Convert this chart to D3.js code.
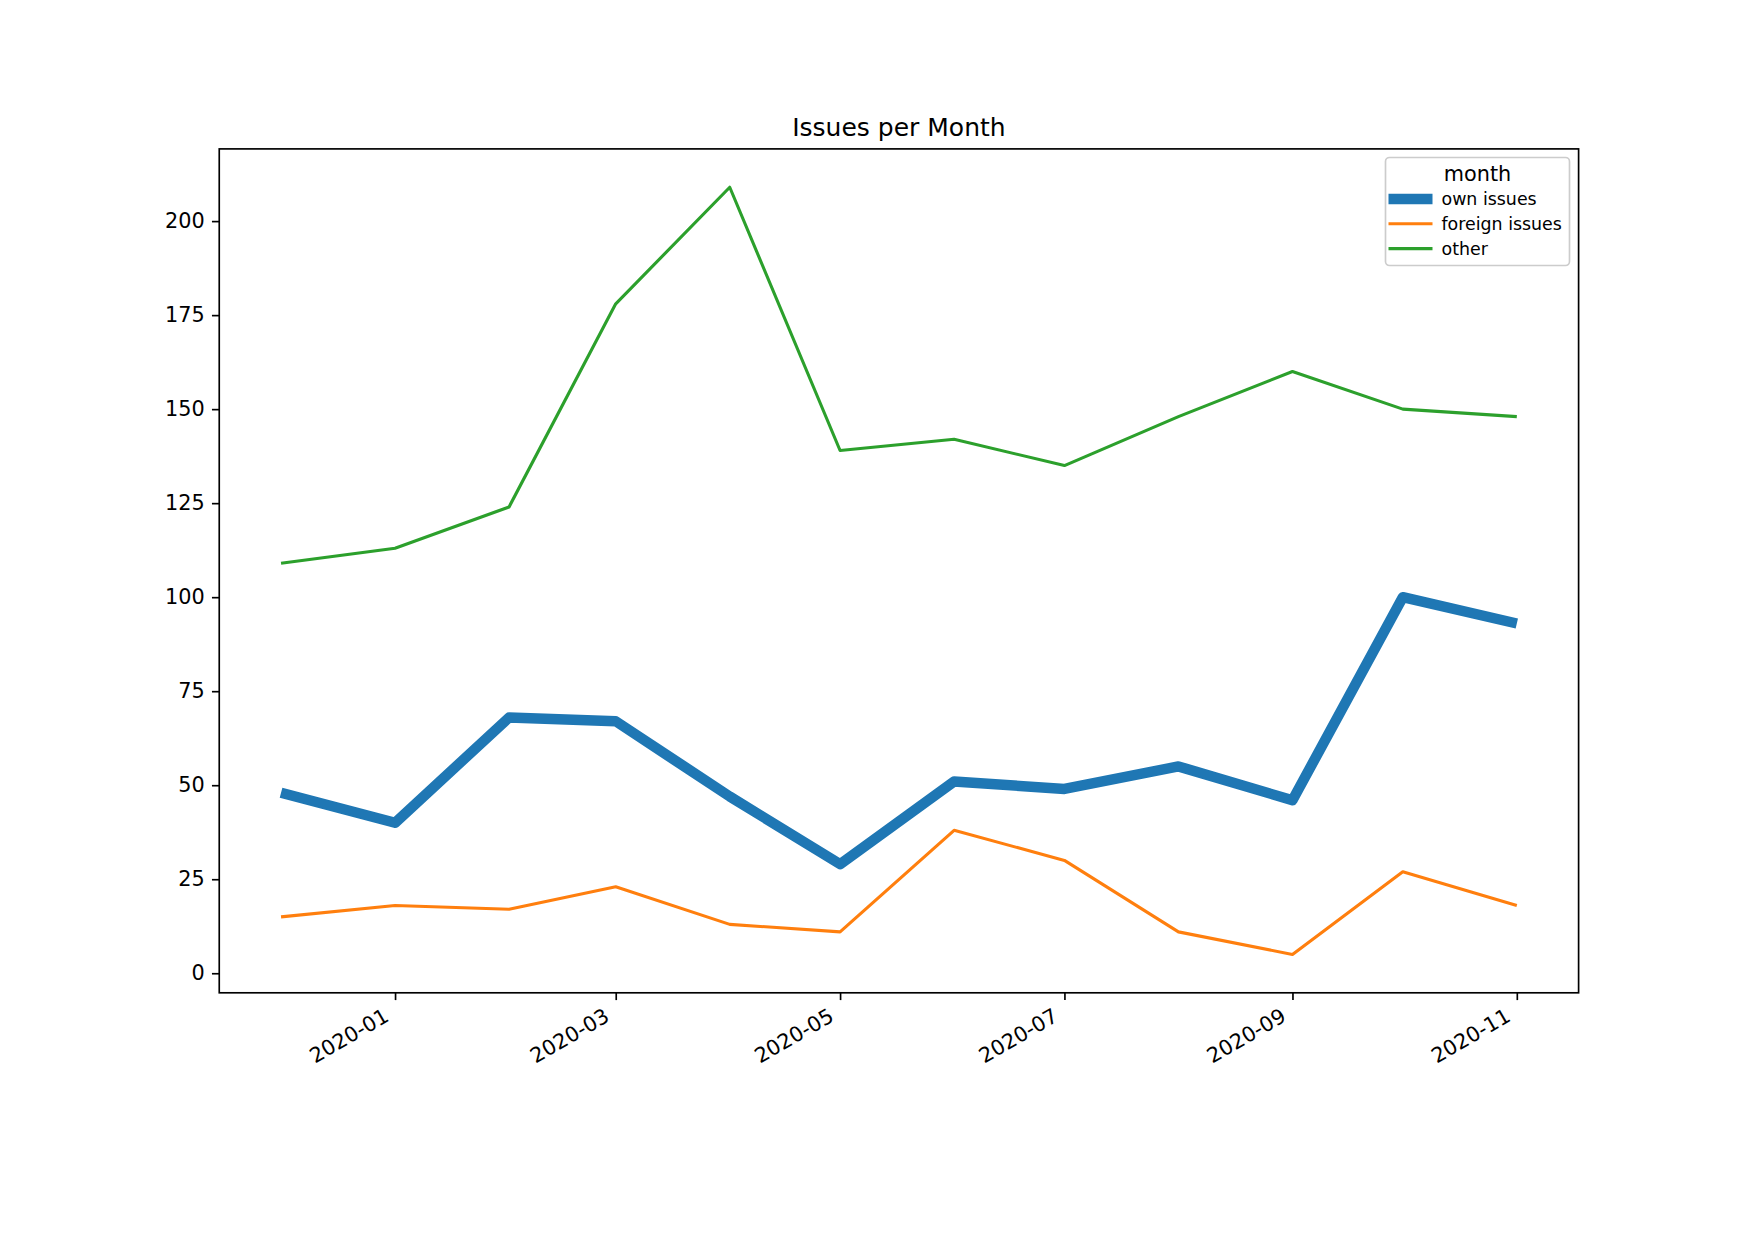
<!DOCTYPE html>
<html>
<head>
<meta charset="utf-8">
<script src="https://cdn.jsdelivr.net/npm/d3@7"></script>
<style>
  body { margin: 0; background: #fff; }
  svg text { font-family: "DejaVu Sans", sans-serif; fill: #000; }
</style>
</head>
<body>
<svg id="chart" width="1754" height="1241"></svg>
<script>
const months = ["2019-12-01", "2020-01-01", "2020-02-01", "2020-03-01", "2020-04-01", "2020-05-01",
                "2020-06-01", "2020-07-01", "2020-08-01", "2020-09-01", "2020-10-01", "2020-11-01"];
const ownIssues = [48, 40, 68, 67, 47, 29, 51, 49, 55, 46, 100, 93];
const foreignIssues = [15, 18, 17, 23, 13, 11, 38, 30, 11, 5, 27, 18];
const other = [109, 113, 124, 178, 209, 139, 142, 135, 148, 160, 150, 148];
const yTicks = [0, 25, 50, 75, 100, 125, 150, 175, 200];
const xTicks = ["2020-01-01", "2020-03-01", "2020-05-01", "2020-07-01", "2020-09-01", "2020-11-01"];

const series = [
    { name: "own issues", values: ownIssues, color: "#1f77b4", width: 10.4 },
    { name: "foreign issues", values: foreignIssues, color: "#ff7f0e", width: 3.1 },
    { name: "other", values: other, color: "#2ca02c", width: 3.1 }
];

const svg = d3.select("#chart");
const parse = d3.utcParse("%Y-%m-%d");
const dates = months.map(parse);

const plot = { left: 219.25, right: 1578.6, top: 148.9, bottom: 992.8 };
const tickLen = 7.3, tickPad = 7.3, fontSize = 20.8;

// matplotlib style 5% margins
const xMin = d3.min(dates), xMax = d3.max(dates);
const xPad = (xMax - xMin) * 0.05;
const x = d3.scaleUtc()
    .domain([new Date(+xMin - xPad), new Date(+xMax + xPad)])
    .range([plot.left, plot.right]);

const allVals = series.flatMap(s => s.values);
const yMin = d3.min(allVals), yMax = d3.max(allVals);
const yPad = (yMax - yMin) * 0.05;
const y = d3.scaleLinear()
    .domain([yMin - yPad, yMax + yPad])
    .range([plot.bottom, plot.top]);

// lines
const line = d3.line()
    .x((d, i) => x(dates[i]))
    .y(d => y(d));

svg.append("clipPath").attr("id", "clip")
    .append("rect")
    .attr("x", plot.left).attr("y", plot.top)
    .attr("width", plot.right - plot.left).attr("height", plot.bottom - plot.top);

series.forEach(s => {
    svg.append("path")
        .datum(s.values)
        .attr("d", line)
        .attr("fill", "none")
        .attr("stroke", s.color)
        .attr("stroke-width", s.width)
        .attr("stroke-linejoin", "round")
        .attr("clip-path", "url(#clip)");
});

// axes
const yAxis = d3.axisLeft(y).tickValues(yTicks).tickSize(tickLen).tickPadding(tickPad);
const xAxis = d3.axisBottom(x).tickValues(xTicks.map(parse)).tickSize(tickLen).tickPadding(tickPad)
    .tickFormat(d3.utcFormat("%Y-%m"));

const gy = svg.append("g")
    .attr("transform", `translate(${plot.left},0)`)
    .call(yAxis);
gy.select(".domain").remove();
gy.selectAll("line").attr("stroke", "#000").attr("stroke-width", 1.67);
gy.selectAll("text").attr("font-size", fontSize).attr("fill", "#000").attr("font-family", null);

const gx = svg.append("g")
    .attr("transform", `translate(0,${plot.bottom})`)
    .call(xAxis);
gx.select(".domain").remove();
gx.selectAll("line").attr("stroke", "#000").attr("stroke-width", 1.67);
// rotated 30 deg, top-right corner of the label box at the tick
const h = fontSize * 1.164;
gx.selectAll("text")
    .attr("font-size", fontSize)
    .attr("font-family", null)
    .attr("fill", "#000")
    .attr("text-anchor", "end")
    .attr("x", 0).attr("y", 0)
    .attr("dy", "0.35em")
    .attr("transform", `translate(${-0.25 * h - 3},${tickLen + tickPad + 0.433 * h - 4}) rotate(-30)`);

// frame
svg.append("rect")
    .attr("x", plot.left).attr("y", plot.top)
    .attr("width", plot.right - plot.left).attr("height", plot.bottom - plot.top)
    .attr("fill", "none")
    .attr("stroke", "#000")
    .attr("stroke-width", 1.67);

// title
svg.append("text")
    .attr("x", (plot.left + plot.right) / 2)
    .attr("y", plot.top - 12.5)
    .attr("text-anchor", "middle")
    .attr("font-size", 25)
    .text("Issues per Month");

// legend
const lg = svg.append("g").attr("transform", "translate(1385.5,157.5)");
lg.append("rect")
    .attr("width", 184).attr("height", 108)
    .attr("rx", 4)
    .attr("fill", "#fff").attr("fill-opacity", 0.8)
    .attr("stroke", "#cccccc").attr("stroke-width", 1.67);
lg.append("text")
    .attr("x", 92).attr("y", 16)
    .attr("dy", "0.35em")
    .attr("text-anchor", "middle")
    .attr("font-size", 20.8)
    .text("month");
series.forEach((s, i) => {
    const cy = 41.5 + i * 24.8;
    lg.append("line")
        .attr("x1", 3).attr("x2", 47)
        .attr("y1", cy).attr("y2", cy)
        .attr("stroke", s.color)
        .attr("stroke-width", s.width);
    lg.append("text")
        .attr("x", 56).attr("y", cy)
        .attr("dy", "0.35em")
        .attr("font-size", 17.4)
        .text(s.name);
});
</script>
</body>
</html>
